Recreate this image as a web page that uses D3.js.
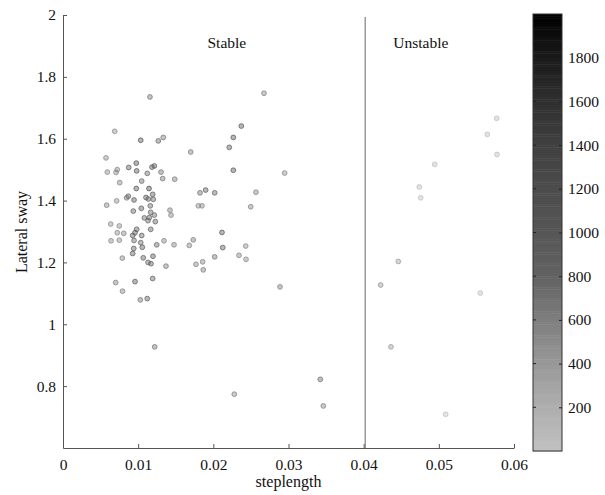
<html>
<head>
<title>Lateral sway vs steplength</title>
<script type="text/javascript" src="https://cdnjs.cloudflare.com/ajax/libs/d3/7.8.5/d3.min.js"></script>
<style type="text/css">
	body { margin: 0; background: #fff; }
	svg text { font-family: "Liberation Serif", "Times New Roman", serif; fill: #111; }
</style>
</head>
<body>
<div id="chart"></div>

<script>

// steplength / lateral sway / colour value, one entry per trial
var steplength = [
	0.01157, 0.02674, 0.00688, 0.01034, 0.01268, 0.01334, 0.02372, 0.02266, 0.02212, 0.01699,
	0.00572, 0.00589, 0.00705, 0.00722, 0.00874, 0.00975, 0.00980, 0.01121, 0.01184, 0.01215,
	0.01304, 0.01326, 0.01486, 0.02266, 0.02949, 0.00754, 0.01047, 0.00975, 0.01144, 0.01193,
	0.00869, 0.00847, 0.00945, 0.01104, 0.01135, 0.01201, 0.00714, 0.00581, 0.00935, 0.01042,
	0.01161, 0.01823, 0.01898, 0.02018, 0.02567, 0.01800, 0.01849, 0.02497, 0.01423, 0.01437,
	0.01167, 0.01215, 0.01148, 0.01082, 0.01228, 0.01131, 0.00635, 0.00749, 0.00980, 0.00958,
	0.00927, 0.00722, 0.00808, 0.01047, 0.01167, 0.00639, 0.00749, 0.00945, 0.01034, 0.01055,
	0.00941, 0.00927, 0.01247, 0.01344, 0.01477, 0.01680, 0.01733, 0.02115, 0.02125, 0.02431,
	0.00789, 0.01068, 0.01197, 0.01131, 0.01171, 0.01370, 0.01769, 0.01858, 0.01866, 0.02018,
	0.02341, 0.02435, 0.00701, 0.00958, 0.01193, 0.00792, 0.01028, 0.01121, 0.02887, 0.01220,
	0.03423, 0.02279, 0.03463,
	0.05770, 0.05645, 0.05774, 0.04945, 0.04740, 0.04759, 0.04461, 0.04226, 0.05551, 0.04363,
	0.05091
];

var lateralSway = [
	1.735, 1.747, 1.624, 1.595, 1.593, 1.604, 1.641, 1.604, 1.572, 1.557,
	1.538, 1.492, 1.491, 1.500, 1.507, 1.521, 1.496, 1.488, 1.508, 1.512,
	1.492, 1.471, 1.469, 1.498, 1.489, 1.458, 1.463, 1.439, 1.439, 1.420,
	1.414, 1.409, 1.402, 1.410, 1.405, 1.404, 1.399, 1.385, 1.366, 1.375,
	1.383, 1.425, 1.434, 1.425, 1.427, 1.383, 1.383, 1.380, 1.369, 1.353,
	1.362, 1.353, 1.345, 1.344, 1.332, 1.335, 1.324, 1.318, 1.307, 1.296,
	1.287, 1.296, 1.294, 1.287, 1.307, 1.270, 1.272, 1.271, 1.264, 1.249,
	1.245, 1.229, 1.257, 1.270, 1.257, 1.255, 1.273, 1.297, 1.248, 1.253,
	1.214, 1.215, 1.220, 1.200, 1.196, 1.188, 1.194, 1.202, 1.176, 1.218,
	1.223, 1.210, 1.135, 1.138, 1.148, 1.107, 1.079, 1.083, 1.121, 0.927,
	0.822, 0.774, 0.736,
	1.666, 1.614, 1.549, 1.517, 1.444, 1.409, 1.203, 1.127, 1.101, 0.927,
	0.709
];

var colourValue = [
	700, 600, 550, 1100, 800, 700, 1100, 1100, 1000, 650,
	550, 550, 550, 600, 950, 1200, 1100, 800, 950, 950,
	700, 700, 650, 1050, 550, 600, 800, 1100, 1300, 1000,
	800, 700, 1000, 950, 850, 900, 550, 600, 900, 1000,
	850, 750, 1000, 900, 600, 550, 550, 600, 600, 600,
	850, 800, 950, 800, 950, 800, 550, 550, 1000, 1000,
	1000, 550, 600, 950, 950, 550, 550, 800, 850, 1000,
	950, 1050, 800, 600, 600, 600, 650, 1100, 1050, 550,
	600, 950, 1000, 800, 950, 650, 600, 600, 650, 700,
	600, 550, 650, 1050, 900, 600, 700, 950, 650, 700,
	750, 600, 600,
	80, 60, 80, 60, 60, 50, 400, 450, 50, 420,
	40
];

var threshold = 0.0402;
var regionLabels = [ { text: "Stable", x: 0.0218 }, { text: "Unstable", x: 0.0476 } ];

var xTicks = [0, 0.01, 0.02, 0.03, 0.04, 0.05, 0.06];
var yTicks = [0.8, 1, 1.2, 1.4, 1.6, 1.8, 2];
var colourTicks = [200, 400, 600, 800, 1000, 1200, 1400, 1600, 1800];
var colourDomain = [0, 2000];
// colormap stops (value -> gray level)
var mapStops = [0, 200, 400, 600, 800, 1000, 1200, 1400, 1600, 1800, 2000];
var mapGrays = [192, 174, 152, 126, 98, 86, 76, 64, 48, 26, 0];

var serif = '"Liberation Serif", "Times New Roman", serif';


function drawChart(id, width, height)
{
	var svg = d3.select(id).append("svg")
		.attr("width", width)
		.attr("height", height);

	var x = d3.scaleLinear().domain([0, 0.06]).range([63, 514]);
	var y = d3.scaleLinear().domain([0.6, 2]).range([448, 15]);

	var grayScale = d3.scaleLinear()
		.domain(mapStops)
		.range(mapGrays.map(function(g) { return d3.rgb(g, g, g).toString(); }))
		.clamp(true);

	// axes, ticks pointing inward like matlab
	var xAxis = svg.append("g")
		.attr("transform", "translate(0,448)")
		.call(d3.axisBottom(x).tickValues(xTicks).tickSizeInner(-4).tickSizeOuter(0).tickPadding(11)
			.tickFormat(function(d) { return d === 0 ? "0" : d3.format(".2f")(d); }));

	var yAxis = svg.append("g")
		.attr("transform", "translate(63,0)")
		.call(d3.axisLeft(y).tickValues(yTicks).tickSizeInner(-4).tickSizeOuter(0).tickPadding(7)
			.tickFormat(d3.format("")));

	svg.selectAll("g").attr("font-family", serif);
	svg.selectAll(".domain").attr("stroke", "#555");
	svg.selectAll(".tick line").attr("stroke", "#555");
	svg.selectAll(".tick text").style("font-size", "15.5px").attr("fill", "#111");

	// threshold between stable and unstable
	svg.append("line")
		.attr("x1", x(threshold)).attr("x2", x(threshold))
		.attr("y1", y(2) + 2).attr("y2", y(0.6))
		.attr("stroke", "#666")
		.attr("stroke-width", 1);

	svg.selectAll(".region")
		.data(regionLabels)
		.enter().append("text")
		.attr("class", "region")
		.attr("x", function(d) { return x(d.x); })
		.attr("y", 48)
		.attr("text-anchor", "middle")
		.style("font-size", "15.5px")
		.text(function(d) { return d.text; });

	// points
	var points = steplength.map(function(s, i) {
		return { x: s, y: lateralSway[i], c: colourValue[i] };
	});

	svg.selectAll(".pt")
		.data(points)
		.enter().append("circle")
		.attr("class", "pt")
		.attr("cx", function(d) { return x(d.x); })
		.attr("cy", function(d) { return y(d.y); })
		.attr("r", 2.4)
		.attr("fill", function(d) { return grayScale(d.c); })
		.attr("fill-opacity", 0.42)
		.attr("stroke", function(d) { return grayScale(d.c); })
		.attr("stroke-opacity", 0.7)
		.attr("stroke-width", 1);

	// axis titles
	svg.append("text")
		.attr("x", x(0.03))
		.attr("y", 487)
		.attr("text-anchor", "middle")
		.style("font-size", "16px")
		.text("steplength");

	svg.append("text")
		.attr("transform", "translate(27,232) rotate(-90)")
		.attr("text-anchor", "middle")
		.style("font-size", "16px")
		.text("Lateral sway");

	// colorbar
	var cb = d3.scaleLinear().domain(colourDomain).range([451, 14]);
	var cbLeft = 533, cbWidth = 29;
	var steps = d3.range(colourDomain[0], colourDomain[1], 10);

	svg.selectAll(".cbstep")
		.data(steps)
		.enter().append("rect")
		.attr("class", "cbstep")
		.attr("x", cbLeft)
		.attr("y", function(d) { return cb(d + 10); })
		.attr("width", cbWidth)
		.attr("height", function(d) { return cb(d) - cb(d + 10) + 0.5; })
		.attr("fill", function(d) { return grayScale(d + 5); });

	svg.append("rect")
		.attr("x", cbLeft).attr("y", cb(colourDomain[1]))
		.attr("width", cbWidth).attr("height", cb(colourDomain[0]) - cb(colourDomain[1]))
		.attr("fill", "none")
		.attr("stroke", "#333");

	var cbAxis = svg.append("g")
		.attr("transform", "translate(" + (cbLeft + cbWidth) + ",0)")
		.call(d3.axisRight(cb).tickValues(colourTicks).tickSizeInner(-3).tickSizeOuter(0).tickPadding(6)
			.tickFormat(d3.format("d")));
	cbAxis.attr("font-family", serif);
	cbAxis.select(".domain").remove();
	cbAxis.selectAll(".tick line").attr("stroke", "#222");
	cbAxis.selectAll(".tick text").style("font-size", "15.5px").attr("fill", "#111");

	svg.selectAll(".cbtickl")
		.data(colourTicks)
		.enter().append("line")
		.attr("class", "cbtickl")
		.attr("x1", cbLeft).attr("x2", cbLeft + 3)
		.attr("y1", function(d) { return cb(d); })
		.attr("y2", function(d) { return cb(d); })
		.attr("stroke", "#222");
}

drawChart('#chart', 605, 495);

</script>
</body>
</html>
